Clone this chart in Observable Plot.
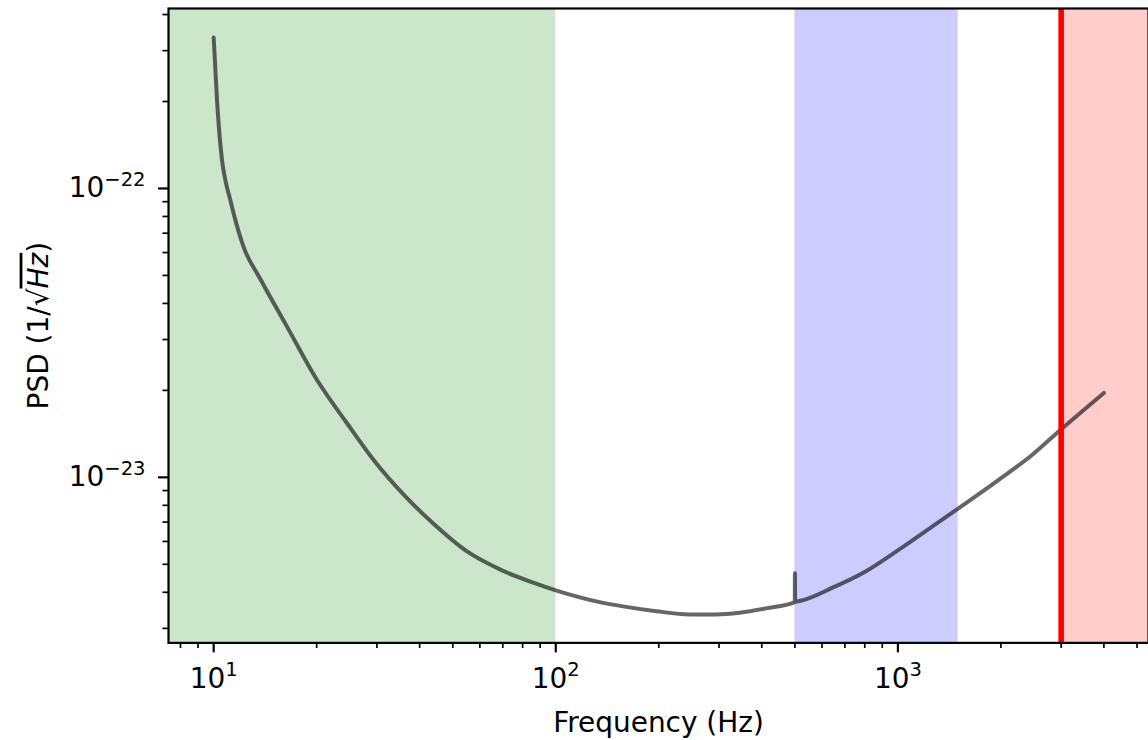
<!DOCTYPE html>
<html><head><meta charset="utf-8">
<script src="https://cdn.jsdelivr.net/npm/d3@7"></script>
<script src="https://cdn.jsdelivr.net/npm/@observablehq/plot@0.6"></script>
<style>
html,body{margin:0;padding:0;background:#fff;overflow:hidden;}
#chart{width:1148px;height:740px;overflow:hidden;}
</style>
</head><body><div id="chart"></div>
<script>
// Curve (frequency in Hz, PSD in 1/sqrt(Hz))
const freq = [10, 10.23, 10.58, 10.82, 11.19, 11.44, 12.23, 13.69, 16.38, 20.03, 24.51, 29.31, 36.68, 43.85, 54.9, 68.64, 85.86, 101.6, 134.4, 157.2, 196.7, 246, 294.4, 344.4, 411.9, 499.5, 500, 500.5, 515, 644.6, 806.6, 1009, 1262, 1510, 1975, 2471, 2990, 4000];
const psd = [3.33e-22, 2.018e-22, 1.253e-22, 1.068e-22, 9.11e-23, 8.19e-23, 6.28e-23, 4.86e-23, 3.325e-23, 2.176e-23, 1.542e-23, 1.151e-23, 8.49e-24, 6.92e-24, 5.55e-24, 4.80e-24, 4.32e-24, 4.04e-24, 3.70e-24, 3.575e-24, 3.44e-24, 3.354e-24, 3.354e-24, 3.40e-24, 3.52e-24, 3.70e-24, 4.66e-24, 3.71e-24, 3.73e-24, 4.15e-24, 4.73e-24, 5.63e-24, 6.77e-24, 7.84e-24, 9.82e-24, 1.198e-23, 1.462e-23, 1.96e-23];

// Shaded frequency bands
const spanStart = [1, 500, 3000];
const spanEnd = [100, 1500, 100000];
const spanColor = ["green", "blue", "red"];
// Vertical cutoff line
const cutoff = [3000];

// Ticks
const xMajor = [10, 100, 1000];
const xMinor = [8, 9, 20, 30, 40, 50, 60, 70, 80, 90, 200, 300, 400, 500, 600, 700, 800, 900, 2000, 3000, 4000, 5000];
const yMajor = [1e-23, 1e-22];
const yMinor = [3e-24, 4e-24, 5e-24, 6e-24, 7e-24, 8e-24, 9e-24, 2e-23, 3e-23, 4e-23, 5e-23, 6e-23, 7e-23, 8e-23, 9e-23, 2e-22, 3e-22, 4e-22];
const xDomain = [7.38, 5400];
const yDomain = [2.673e-24, 4.198e-22];
const xLabel = "Frequency (Hz)";
const yLabel = "PSD (1/√Hz)";

const curve = freq.map((f, i) => ({f, p: psd[i]}));
const spans = spanStart.map((s, i) => ({s, e: spanEnd[i], c: spanColor[i]}));
const supFmt = d => "10|" + Math.round(Math.log10(d));

const chart = Plot.plot({
  width: 1150, height: 740,
  marginLeft: 168.3, marginRight: 0, marginTop: 8, marginBottom: 96.5,
  style: {fontFamily: "'DejaVu Sans', sans-serif", fontSize: "28px", background: "white", color: "black"},
  x: {type: "log", domain: xDomain},
  y: {type: "log", domain: yDomain},
  color: {type: "identity"},
  marks: [
    Plot.rect(spans, {x1: "s", x2: "e", y1: () => yDomain[0], y2: () => yDomain[1], fill: "c", fillOpacity: 0.2, clip: true}),
    Plot.line(curve, {x: "f", y: "p", stroke: "black", strokeOpacity: 0.6, strokeWidth: 4, curve: "monotone-x"}),
    Plot.ruleX(cutoff, {stroke: "red", strokeWidth: 5.6}),
    Plot.frame({stroke: "black", strokeWidth: 2.2}),
    Plot.axisX(xMinor, {tickSize: 5.6, strokeWidth: 1.7, tickFormat: () => "", label: null}),
    Plot.axisX(xMajor, {tickSize: 10, strokeWidth: 2.2, tickPadding: 15, tickFormat: supFmt, fontSize: 28,
      label: xLabel, labelAnchor: "center", labelOffset: 89.5, labelArrow: "none"}),
    Plot.axisY(yMinor, {tickSize: 5.6, strokeWidth: 1.7, tickFormat: () => "", label: null}),
    Plot.axisY(yMajor, {tickSize: 10, strokeWidth: 2.2, tickPadding: 13, tickFormat: supFmt, fontSize: 28,
      label: yLabel, labelAnchor: "center", labelOffset: 141, labelArrow: "none"})
  ]
});
document.getElementById("chart").appendChild(chart);

const NS = "http://www.w3.org/2000/svg";
const svg = chart.tagName.toLowerCase() === "svg" ? chart : chart.querySelector("svg");
svg.querySelectorAll("text").forEach(t => {
  const s = t.textContent;
  if (!/^10\|/.test(s)) return;
  const [base, exp] = s.split("|");
  t.textContent = base;
  const ts = document.createElementNS(NS, "tspan");
  ts.setAttribute("font-size", "19.6");
  ts.setAttribute("dy", "-11.5");
  ts.textContent = exp.replace("-", "\u2212");
  t.appendChild(ts);
});
svg.querySelectorAll("text").forEach(t => {
  if (t.textContent !== yLabel) return;
  t.textContent = "PSD (1/\u221A";
  const h = document.createElementNS(NS, "tspan");
  h.setAttribute("font-style", "italic");
  h.setAttribute("style", "text-decoration: overline");
  h.textContent = "Hz";
  t.appendChild(h);
  const c = document.createElementNS(NS, "tspan");
  c.textContent = ")";
  t.appendChild(c);
});
</script>
</body></html>
